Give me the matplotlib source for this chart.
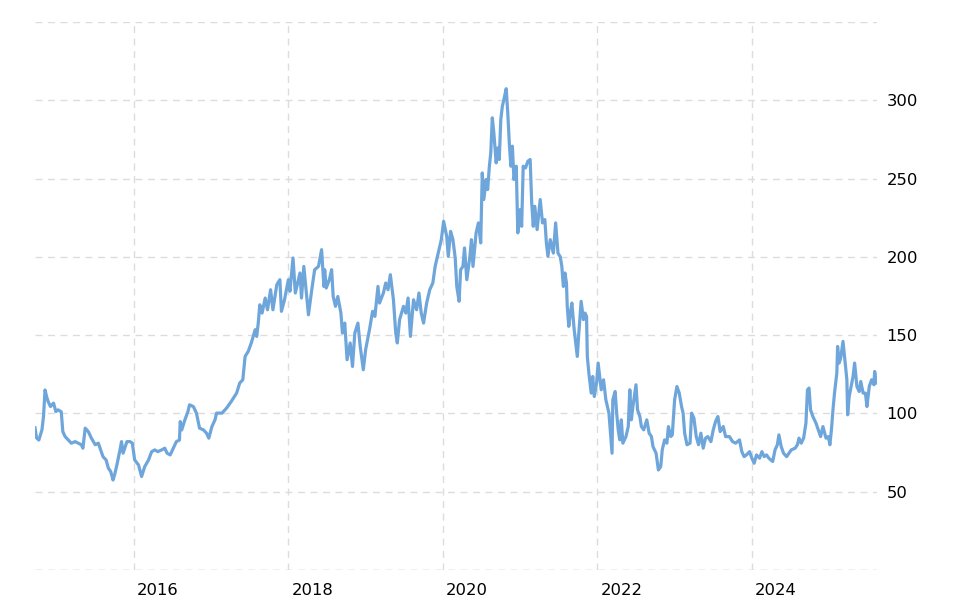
import matplotlib
matplotlib.use("Agg")
import matplotlib.pyplot as plt

# decimal year of each observation
years = [
    2014.72, 2014.74, 2014.77, 2014.81, 2014.83, 2014.85, 2014.87, 2014.89, 2014.92, 2014.96,
    2014.99, 2015.02, 2015.06, 2015.08, 2015.11, 2015.15, 2015.19, 2015.24, 2015.28, 2015.32,
    2015.34, 2015.37, 2015.41, 2015.45, 2015.50, 2015.54, 2015.57, 2015.60, 2015.64, 2015.67,
    2015.70, 2015.73, 2015.75, 2015.78, 2015.82, 2015.84, 2015.86, 2015.91, 2015.95, 2015.98,
    2016.01, 2016.06, 2016.10, 2016.14, 2016.19, 2016.23, 2016.27, 2016.31, 2016.36, 2016.40,
    2016.43, 2016.47, 2016.51, 2016.55, 2016.59,
    2016.60, 2016.62, 2016.66, 2016.70, 2016.72, 2016.77, 2016.81, 2016.85, 2016.90, 2016.94,
    2016.97, 2017.01, 2017.05, 2017.07, 2017.14, 2017.20, 2017.26, 2017.33, 2017.37, 2017.41,
    2017.44, 2017.48, 2017.52, 2017.57, 2017.59, 2017.61, 2017.63, 2017.66, 2017.70, 2017.73,
    2017.77, 2017.80, 2017.85, 2017.89, 2017.91, 2017.95, 2018.00, 2018.02, 2018.06, 2018.09,
    2018.15, 2018.17, 2018.20, 2018.26, 2018.30, 2018.34, 2018.39, 2018.43, 2018.46,
    2018.47, 2018.49, 2018.53, 2018.56, 2018.58, 2018.61, 2018.64, 2018.68, 2018.70, 2018.73,
    2018.76, 2018.80, 2018.83, 2018.86, 2018.90, 2018.93, 2018.97, 2019.00, 2019.05, 2019.09,
    2019.12, 2019.16, 2019.18, 2019.23, 2019.26, 2019.29, 2019.32, 2019.36, 2019.39, 2019.41,
    2019.44, 2019.49, 2019.52, 2019.55, 2019.58, 2019.62, 2019.66, 2019.69, 2019.72, 2019.75,
    2019.79, 2019.83, 2019.87, 2019.90, 2019.94, 2019.98, 2020.01, 2020.05,
    2020.07, 2020.10, 2020.13, 2020.16, 2020.18, 2020.21, 2020.23, 2020.26, 2020.28, 2020.31,
    2020.35, 2020.37, 2020.39, 2020.43, 2020.46, 2020.49, 2020.51, 2020.53, 2020.56, 2020.58,
    2020.60, 2020.62, 2020.64, 2020.66, 2020.69, 2020.71, 2020.73, 2020.75, 2020.77, 2020.79,
    2020.82, 2020.84, 2020.86, 2020.88, 2020.90, 2020.92, 2020.95, 2020.96, 2020.97, 2021.00,
    2021.02, 2021.04, 2021.07, 2021.10, 2021.13, 2021.15, 2021.17, 2021.19, 2021.22, 2021.26,
    2021.29, 2021.32, 2021.34, 2021.36, 2021.39, 2021.43, 2021.46, 2021.49, 2021.52,
    2021.54, 2021.56, 2021.58, 2021.60, 2021.61, 2021.63, 2021.65, 2021.67, 2021.70, 2021.72,
    2021.74, 2021.76, 2021.79, 2021.82, 2021.84, 2021.86, 2021.87, 2021.89, 2021.92, 2021.94,
    2021.96, 2021.99, 2022.01, 2022.03, 2022.05, 2022.08, 2022.11, 2022.13, 2022.15, 2022.17,
    2022.19, 2022.20, 2022.23, 2022.25, 2022.27, 2022.29, 2022.31, 2022.33, 2022.37, 2022.40,
    2022.42, 2022.44, 2022.46, 2022.50, 2022.52, 2022.55, 2022.57, 2022.60, 2022.64, 2022.67,
    2022.70, 2022.72, 2022.76, 2022.79, 2022.82, 2022.84, 2022.87, 2022.90, 2022.92, 2022.95,
    2022.97, 2023.00, 2023.03, 2023.06,
    2023.09, 2023.11, 2023.13, 2023.16, 2023.20, 2023.22, 2023.25, 2023.28, 2023.31, 2023.34,
    2023.37, 2023.40, 2023.43, 2023.47, 2023.50, 2023.53, 2023.56, 2023.59, 2023.63, 2023.66,
    2023.71, 2023.75, 2023.79, 2023.84, 2023.87, 2023.90, 2023.93, 2023.97, 2024.00, 2024.03,
    2024.06, 2024.10, 2024.13, 2024.16, 2024.19, 2024.22, 2024.27, 2024.30, 2024.33, 2024.35,
    2024.38, 2024.41, 2024.45, 2024.48, 2024.51, 2024.56, 2024.59, 2024.61, 2024.64, 2024.67,
    2024.70, 2024.72, 2024.74, 2024.76, 2024.79, 2024.83, 2024.86, 2024.89, 2024.92, 2024.96,
    2024.99, 2025.01, 2025.03, 2025.05, 2025.07, 2025.10, 2025.11, 2025.13, 2025.15, 2025.18,
    2025.20, 2025.23, 2025.24, 2025.26, 2025.29, 2025.31, 2025.33, 2025.36, 2025.39, 2025.41,
    2025.44, 2025.47, 2025.49, 2025.52, 2025.55, 2025.58, 2025.59, 2025.61,
]

prices = [
    90.8, 84.4, 83.0, 89.5, 98.0, 115.0, 110.8, 107.6, 104.4, 106.6,
    101.2, 102.3, 101.0, 88.4, 85.2, 83.1, 81.0, 82.0, 81.0, 80.0,
    77.8, 90.6, 88.4, 84.2, 80.0, 81.0, 76.7, 72.4, 70.3, 65.0,
    62.9, 57.5, 60.7, 67.1, 76.7, 82.0, 74.6, 82.0, 82.0, 81.0,
    70.3, 67.1, 59.7, 66.0, 70.3, 75.6, 76.7, 75.6, 76.7, 77.8,
    74.6, 73.5, 77.8, 82.0, 83.0,
    94.8, 89.5, 95.9, 101.2, 105.5, 104.4, 100.2, 90.6, 89.5, 87.4,
    84.2, 91.6, 95.9, 100.2, 100.2, 103.4, 107.6, 113.0, 119.4, 121.5,
    136.4, 139.6, 145.0, 153.5, 149.2, 157.7, 169.4, 164.1, 173.7, 166.2,
    179.0, 166.2, 182.2, 185.4, 165.2, 172.6, 185.4, 178.0, 199.3, 176.9,
    189.7, 173.7, 193.9, 163.0, 178.0, 191.8, 193.9, 204.6, 181.1,
    191.8, 180.1, 185.4, 191.8, 174.7, 168.4, 174.7, 164.1, 151.3, 157.7,
    134.3, 145.0, 130.0, 151.3, 157.7, 142.8, 127.9, 140.7, 153.5, 165.2,
    162.0, 181.1, 170.5, 176.9, 183.3, 179.0, 188.6, 172.6, 151.3, 145.0,
    159.9, 168.4, 164.1, 173.7, 149.2, 172.6, 166.2, 176.9, 164.1, 157.7,
    170.5, 179.0, 183.3, 193.9, 202.4, 211.0, 222.7, 213.0,
    200.3, 216.3, 211.0, 199.3, 181.1, 171.6, 191.8, 193.9, 205.7, 185.4,
    200.3, 211.0, 193.9, 215.3, 221.7, 208.9, 253.6, 236.6, 249.4, 243.0,
    256.8, 266.4, 288.8, 279.2, 260.0, 269.6, 262.2, 287.7, 296.2, 300.5,
    307.4, 292.0, 272.8, 257.9, 270.7, 249.4, 257.9, 236.6, 215.3, 230.2,
    219.5, 257.9, 256.8, 261.1, 262.2, 234.5, 219.5, 232.3, 217.4, 236.6,
    221.7, 223.8, 208.9, 200.3, 211.0, 202.4, 221.7, 202.4, 200.0,
    193.9, 181.1, 189.7, 183.3, 168.4, 155.6, 164.1, 170.5, 153.5, 145.0,
    136.4, 151.3, 171.6, 159.9, 164.1, 162.0, 136.4, 125.8, 113.0, 123.6,
    110.8, 119.4, 132.2, 123.6, 115.1, 121.5, 108.7, 104.4, 100.2, 87.4,
    74.6, 108.7, 114.0, 100.2, 89.5, 83.1, 95.9, 81.0, 85.2, 91.6,
    115.1, 95.9, 104.4, 118.3, 102.3, 98.0, 91.6, 89.5, 95.9, 87.4,
    85.2, 78.8, 74.6, 63.9, 66.0, 76.7, 83.1, 81.0, 91.6, 85.2,
    86.3, 108.7, 117.2, 113.0,
    104.4, 100.2, 87.4, 80.0, 81.0, 100.2, 97.0, 85.2, 80.0, 87.4,
    77.8, 84.2, 85.2, 82.0, 89.5, 94.8, 98.0, 88.4, 91.6, 85.2,
    85.2, 82.0, 81.0, 83.1, 75.6, 72.4, 73.5, 75.6, 71.4, 68.2,
    73.5, 71.4, 75.6, 72.4, 73.5, 71.4, 69.3, 76.7, 80.0, 86.3,
    78.8, 74.6, 72.4, 74.6, 76.7, 77.8, 80.0, 84.2, 81.0, 84.2,
    93.8, 115.1, 116.2, 102.3, 98.0, 93.8, 89.5, 85.2, 91.6, 84.2,
    85.2, 80.0, 89.5, 102.3, 113.0, 125.8, 142.8, 132.2, 135.4, 146.0,
    136.4, 121.5, 99.1, 110.8, 118.3, 123.6, 132.2, 117.2, 114.0, 120.4,
    113.0, 113.0, 104.4, 117.2, 121.5, 118.3, 126.8, 119.4,
]

grid_values = [0, 50, 100, 150, 200, 250, 300, 350]
y_labels = [50, 100, 150, 200, 250, 300]
x_label_years = [2016, 2018, 2020, 2022, 2024]

fig = plt.figure(figsize=(9.71, 6.01), dpi=100)
ax = fig.add_axes([35 / 971, 1 - 570 / 601, (877 - 35) / 971, (570 - 22) / 601])

ax.set_xlim(2014.72, 2025.62)
ax.set_ylim(0, 350)

for g in grid_values:
    col = "#b5b5b5" if g == 0 else "#dcdcdc"
    ax.axhline(g, color=col, lw=1.0, ls=(0, (5, 4)), zorder=1)
for yr in x_label_years:
    ax.axvline(yr, color="#dcdcdc", lw=1.0, ls=(0, (5, 4)), zorder=1)

ax.plot(years, prices, color="#6ea6db", lw=2.3, zorder=3, solid_joinstyle="round")

for s in ax.spines.values():
    s.set_visible(False)

ax.set_xticks([])
ax.yaxis.tick_right()
ax.set_yticks(y_labels)
ax.set_yticklabels([str(v) for v in y_labels])
ax.tick_params(axis="y", length=0, pad=7, labelsize=11.8, labelcolor="#000000")

xt = ax.get_xaxis_transform()
for yr in x_label_years:
    ax.text(yr + 0.04, -0.037, str(yr), transform=xt, ha="left", va="center",
            fontsize=11.8, color="#000000")

fig.savefig("out.png", dpi=100)
